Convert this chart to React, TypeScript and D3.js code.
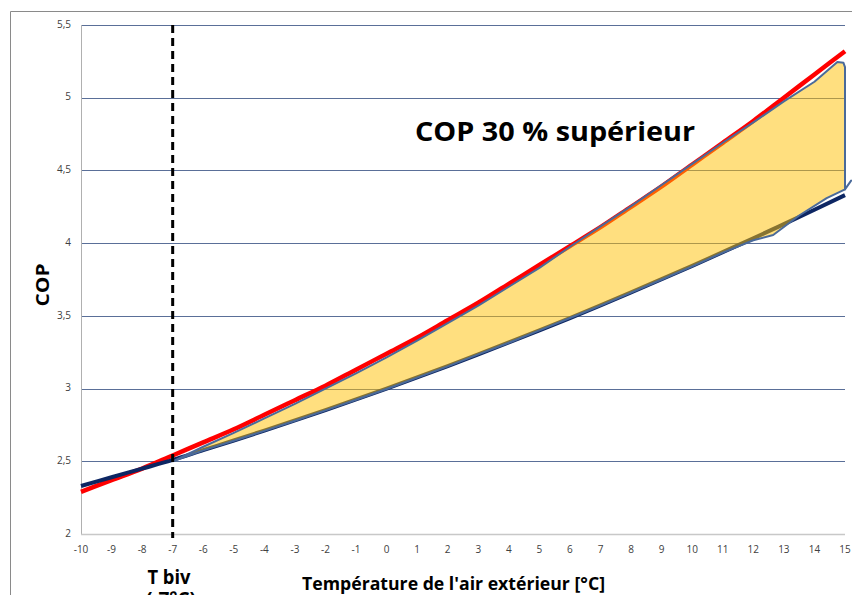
import React from "react";
import * as d3 from "d3";

const temps = [-10,-9,-8,-7,-6,-5,-4,-3,-2,-1,0,1,2,3,4,5,6,7,8,9,10,11,12,13,14,15];
const copRed = [2.29,2.37,2.45,2.54,2.63,2.72,2.82,2.92,3.02,3.13,3.24,3.35,3.47,3.59,3.72,3.85,3.98,4.11,4.25,4.39,4.54,4.69,4.84,5.0,5.16,5.32];
const copNavy = [2.33,2.39,2.45,2.51,2.577,2.643,2.711,2.781,2.852,2.925,3.0,3.077,3.155,3.235,3.317,3.4,3.485,3.572,3.661,3.752,3.844,3.938,4.033,4.131,4.23,4.33];

// shaded region (outline): upper edge then lower edge back
const areaTopT = [-7,-6,-5,-4,-3,-2,-1,0,1,2,3,4,5,6,7,8,9,10,11,12,13,14,14.75,14.95,15];
const areaTopV = [2.5,2.6,2.695,2.795,2.895,3.0,3.105,3.215,3.33,3.45,3.57,3.7,3.83,3.975,4.115,4.255,4.4,4.545,4.69,4.83,4.975,5.11,5.245,5.24,5.21];
const areaBotT = [15,14.4,13.5,12.65,12,11,10,9,8,7,6,5,4,3,2,1,0,-1,-2,-3,-4,-5,-6,-7];
const areaBotV = [4.37,4.31,4.19,4.056,4.02,3.935,3.84,3.75,3.66,3.57,3.485,3.4,3.315,3.235,3.153,3.075,2.997,2.923,2.85,2.779,2.709,2.641,2.575,2.5];
const flickT = [15, 15.2];
const flickV = [4.37, 4.43];

const yTicks = [2, 2.5, 3, 3.5, 4, 4.5, 5, 5.5];
const yTickLabels = ["2", "2,5", "3", "3,5", "4", "4,5", "5", "5,5"];
const xTicks = [-10,-9,-8,-7,-6,-5,-4,-3,-2,-1,0,1,2,3,4,5,6,7,8,9,10,11,12,13,14,15];
const tBiv = -7;

export default function App() {
  const x = d3.scaleLinear().domain([-10, 15]).range([81, 845]);
  const y = d3.scaleLinear().domain([2, 5.5]).range([534, 25]);

  const line = d3.line<[number, number]>()
    .x(d => x(d[0])).y(d => y(d[1]))
    .curve(d3.curveMonotoneX);
  const redPts = temps.map((t, i) => [t, copRed[i]] as [number, number]);
  const navyPts = temps.map((t, i) => [t, copNavy[i]] as [number, number]);

  const areaPts: [number, number][] = [
    ...areaTopT.map((t, i) => [t, areaTopV[i]] as [number, number]),
    ...areaBotT.map((t, i) => [t, areaBotV[i]] as [number, number]),
  ];
  const areaPath = d3.line<[number, number]>()
    .x(d => x(d[0])).y(d => y(d[1]))
    .curve(d3.curveLinearClosed)(areaPts) || "";
  const flickPath = d3.line<[number, number]>()
    .x(d => x(d[0])).y(d => y(d[1]))(flickT.map((t, i) => [t, flickV[i]] as [number, number])) || "";

  const tickFont = "'Open Sans', 'Liberation Sans', sans-serif";

  return (
    <svg width={852} height={595} style={{ position: "absolute", left: 0, top: 0, display: "block", background: "#fff" }}>
      {/* outer chart border */}
      <line x1={10.5} y1={11.5} x2={852} y2={11.5} stroke="#8a8a8a" strokeWidth={1} />
      <line x1={10.5} y1={11.5} x2={10.5} y2={595} stroke="#8a8a8a" strokeWidth={1} />

      {/* gridlines */}
      {yTicks.filter(v => v > 2).map(v => (
        <line key={v} x1={x(-10)} x2={x(15)} y1={Math.round(y(v)) + 0.5} y2={Math.round(y(v)) + 0.5}
          stroke="#5a6f98" strokeWidth={1} />
      ))}
      {/* axes */}
      <line x1={x(-10) + 0.5} x2={x(-10) + 0.5} y1={y(5.5)} y2={y(2)} stroke="#b0b0b0" strokeWidth={1} />
      <line x1={x(-10)} x2={x(15)} y1={Math.round(y(2)) + 0.5} y2={Math.round(y(2)) + 0.5} stroke="#c8c8c8" strokeWidth={1.5} />

      {/* y tick labels */}
      {yTicks.map((v, i) => (
        <text key={v} x={71} y={y(v)} textAnchor="end" dominantBaseline="middle"
          fontFamily={tickFont} fontSize={10} fill="#404040">{yTickLabels[i]}</text>
      ))}
      {/* x tick labels */}
      {xTicks.map(v => (
        <text key={v} x={x(v)} y={550} textAnchor="middle" dominantBaseline="middle"
          fontFamily={tickFont} fontSize={10} fill="#404040">{v}</text>
      ))}

      {/* curves */}
      <path d={line(redPts) || ""} fill="none" stroke="#ff0000" strokeWidth={4.5} />
      <path d={line(navyPts) || ""} fill="none" stroke="#0d2663" strokeWidth={4} />

      {/* shaded region */}
      <path d={areaPath} fill="#ffc000" fillOpacity={0.5} stroke="#4a6a9a" strokeWidth={2} strokeLinejoin="round" />
      <path d={flickPath} fill="none" stroke="#4a6a9a" strokeWidth={2} strokeLinecap="round" />

      {/* T biv dashed line */}
      <line x1={x(tBiv)} x2={x(tBiv)} y1={y(5.5)} y2={y(2) + 4} stroke="#000" strokeWidth={3} strokeDasharray="8,5" />

      {/* annotations */}
      <text x={415} y={141} fontFamily="'Open Sans', sans-serif" fontWeight="bold" fontSize={27}
        textLength={280} lengthAdjust="spacingAndGlyphs" fill="#000">COP 30 % supérieur</text>
      <text transform="translate(49,285) rotate(-90)" textAnchor="middle" fontFamily="'Open Sans', sans-serif"
        fontWeight="bold" fontSize={18} textLength={43} lengthAdjust="spacingAndGlyphs" fill="#000">COP</text>
      <text x={302} y={590} fontFamily="'Open Sans', sans-serif" fontWeight="bold" fontSize={18}
        textLength={303} lengthAdjust="spacingAndGlyphs" fill="#000">Température de l'air extérieur [°C]</text>
      <text x={169} y={584} textAnchor="middle" fontFamily="'Open Sans', sans-serif" fontWeight="bold" fontSize={19}
        textLength={43} lengthAdjust="spacingAndGlyphs" fill="#000">T biv</text>
      <text x={171} y={606} textAnchor="middle" fontFamily="'Open Sans', sans-serif" fontWeight="bold" fontSize={19}
        fill="#000">(-7°C)</text>
    </svg>
  );
}
